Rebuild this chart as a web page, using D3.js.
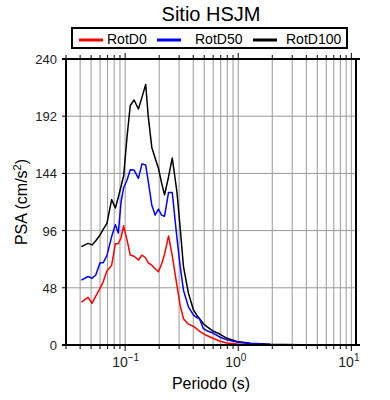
<!DOCTYPE html>
<html>
<head>
<meta charset="utf-8">
<script src="https://cdn.jsdelivr.net/npm/d3@7"></script>
<style>
  body { margin: 0; background: #fff; }
  text { font-family: "Liberation Sans", Arial, sans-serif; }
</style>
</head>
<body>
<svg id="plotCanvas" width="390" height="400"></svg>
<script>
// periods (s) and spectral accelerations (cm/s2)
var periods = [0.041, 0.047, 0.051, 0.055, 0.06, 0.064, 0.069, 0.076, 0.082, 0.087,
               0.092, 0.097, 0.104, 0.111, 0.12, 0.131, 0.141, 0.152, 0.16, 0.172,
               0.184, 0.197, 0.21, 0.223, 0.242, 0.261, 0.287, 0.307, 0.328, 0.363,
               0.402, 0.43, 0.455, 0.49, 0.528, 0.604, 0.693, 0.794, 0.973, 1.28,
               1.92, 3.54, 10];
var rotD0 = [36, 40, 35, 41, 47.5, 53, 62, 67, 85, 85,
             90, 100, 88, 75.5, 74.5, 71.3, 75.5, 73, 69, 67,
             64, 61.5, 68, 76, 91.5, 75, 50, 33, 22, 17.5,
             15.7, 13.5, 11.5, 9.5, 8, 5.5, 3.1, 1.6, 0.8, 0.4,
             0.2, 0.1, 0.05];
var rotD50 = [54.5, 57.5, 56, 58.7, 69, 69, 75, 91, 101, 94,
              120, 132, 138.5, 147, 146.8, 139.8, 152, 151, 137.6, 117.5,
              109, 114, 109, 108, 128, 128, 90, 65.7, 46, 32,
              25, 23, 22, 14, 12, 9.8, 6.5, 4.3, 2.5, 1.3,
              0.5, 0.15, 0.05];
var rotD100 = [82.5, 85.3, 84, 87.5, 92.3, 97, 102, 122, 115, 124,
               133, 142, 175, 201, 205.6, 198, 208, 218.7, 192, 166,
               157, 148.3, 136, 126, 141, 157, 128.6, 98, 65.7, 43.4,
               29.4, 25, 22, 18, 15.4, 11.5, 9, 5.6, 3, 1.4,
               0.6, 0.2, 0.05];
var seriesNames = ["RotD0", "RotD50", "RotD100"];
var seriesColors = ["red", "blue", "black"];
var yTicks = [0, 48, 96, 144, 192, 240];
var xMajor = [0.1, 1, 10];
var xMajorExp = ["\u22121", "0", "1"];

var canvas = d3.select("#plotCanvas");

var plotLeft = 66, plotRight = 356, plotTop = 59, plotBottom = 345;

var x = d3.scaleLog().domain([0.03, 11]).range([plotLeft, plotRight]);
var y = d3.scaleLinear().domain([0, 240]).range([plotBottom, plotTop]);

// minor positions: 1..9 of every decade inside the domain
var xMinor = [];
[0.01, 0.1, 1, 10].forEach(function(d) {
   for (var k = 1; k <= 9; k++) {
      var v = +(d * k).toPrecision(6);
      if (v >= 0.03 && v <= 11) xMinor.push(v);
   }
});

// grid
canvas.append("g").selectAll("line")
   .data(xMinor)
   .enter().append("line")
   .attr("x1", function(d) { return x(d); })
   .attr("x2", function(d) { return x(d); })
   .attr("y1", plotTop)
   .attr("y2", plotBottom)
   .attr("stroke", "#999")
   .attr("stroke-width", 1);

canvas.append("g").selectAll("line")
   .data(yTicks.slice(1, -1))
   .enter().append("line")
   .attr("x1", plotLeft)
   .attr("x2", plotRight)
   .attr("y1", function(d) { return y(d); })
   .attr("y2", function(d) { return y(d); })
   .attr("stroke", "#999")
   .attr("stroke-width", 1);

// curves
var line = d3.line()
   .x(function(d) { return x(d[0]); })
   .y(function(d) { return y(d[1]); });

var allSeries = [rotD0, rotD50, rotD100];
[2, 0, 1].forEach(function(i) {
   canvas.append("path")
      .datum(d3.zip(periods, allSeries[i]))
      .attr("d", line)
      .attr("fill", "none")
      .attr("stroke", seriesColors[i])
      .attr("stroke-width", 1.5)
      .attr("stroke-linejoin", "round");
});

// frame
canvas.append("line").attr("x1", plotLeft - 4).attr("x2", plotRight + 4)
   .attr("y1", plotTop).attr("y2", plotTop).attr("stroke", "black").attr("stroke-width", 2);
canvas.append("line").attr("x1", plotLeft - 4).attr("x2", plotRight + 4)
   .attr("y1", plotBottom).attr("y2", plotBottom).attr("stroke", "black").attr("stroke-width", 2);
canvas.append("line").attr("x1", plotLeft).attr("x2", plotLeft)
   .attr("y1", plotTop).attr("y2", plotBottom).attr("stroke", "black").attr("stroke-width", 2);
canvas.append("line").attr("x1", plotRight).attr("x2", plotRight)
   .attr("y1", plotTop).attr("y2", plotBottom).attr("stroke", "black").attr("stroke-width", 2);

// x ticks bottom and top
canvas.append("g").selectAll("line")
   .data(xMinor)
   .enter().append("line")
   .attr("x1", function(d) { return x(d); })
   .attr("x2", function(d) { return x(d); })
   .attr("y1", plotBottom)
   .attr("y2", function(d) { return xMajor.indexOf(d) >= 0 ? plotBottom + 6 : plotBottom + 4; })
   .attr("stroke", "black");
canvas.append("g").selectAll("line")
   .data(xMinor)
   .enter().append("line")
   .attr("x1", function(d) { return x(d); })
   .attr("x2", function(d) { return x(d); })
   .attr("y1", plotTop)
   .attr("y2", function(d) { return xMajor.indexOf(d) >= 0 ? plotTop - 6 : plotTop - 4; })
   .attr("stroke", "black");

// y ticks
canvas.append("g").selectAll("line")
   .data(yTicks)
   .enter().append("line")
   .attr("x1", plotLeft - 4)
   .attr("x2", plotLeft)
   .attr("y1", function(d) { return y(d); })
   .attr("y2", function(d) { return y(d); })
   .attr("stroke", "black");

canvas.append("g").selectAll("text")
   .data(yTicks)
   .enter().append("text")
   .attr("x", plotLeft - 9)
   .attr("y", function(d) { return y(d) + 5; })
   .attr("text-anchor", "end")
   .attr("font-size", "13px")
   .attr("fill", "#222")
   .text(function(d) { return d; });

// x tick labels 10^n
xMajor.forEach(function(d, i) {
   var t = canvas.append("text")
      .attr("x", x(d) - 13)
      .attr("y", 367)
      .attr("font-size", "14px")
      .attr("fill", "#222");
   t.append("tspan").text("10");
   t.append("tspan").attr("dy", -6).attr("font-size", "10px").text(xMajorExp[i]);
});

// axis titles
canvas.append("text")
   .attr("x", (plotLeft + plotRight) / 2)
   .attr("y", 389)
   .attr("text-anchor", "middle")
   .attr("font-size", "16px")
   .text("Periodo (s)");

var yl = canvas.append("text")
   .attr("transform", "translate(27," + ((plotTop + plotBottom) / 2) + ") rotate(-90)")
   .attr("text-anchor", "middle")
   .attr("font-size", "16px");
yl.append("tspan").text("PSA (cm/s");
yl.append("tspan").attr("dy", -6).attr("font-size", "11px").text("2");
yl.append("tspan").attr("dy", 6).text(")");

// title
canvas.append("text")
   .attr("x", 211)
   .attr("y", 21)
   .attr("text-anchor", "middle")
   .attr("font-size", "20px")
   .text("Sitio HSJM");

// legend
canvas.append("rect")
   .attr("x", 72).attr("y", 28)
   .attr("width", 275).attr("height", 20)
   .attr("fill", "white")
   .attr("stroke", "black")
   .attr("stroke-width", 2);

var legendLineX = [79, 157, 253];
var legendTextX = [107, 195, 286];
seriesNames.forEach(function(name, i) {
   canvas.append("line")
      .attr("x1", legendLineX[i]).attr("x2", legendLineX[i] + 24)
      .attr("y1", 40).attr("y2", 40)
      .attr("stroke", seriesColors[i])
      .attr("stroke-width", 3);
   canvas.append("text")
      .attr("x", legendTextX[i])
      .attr("y", 44)
      .attr("font-size", "14px")
      .text(name);
});
</script>
</body>
</html>
